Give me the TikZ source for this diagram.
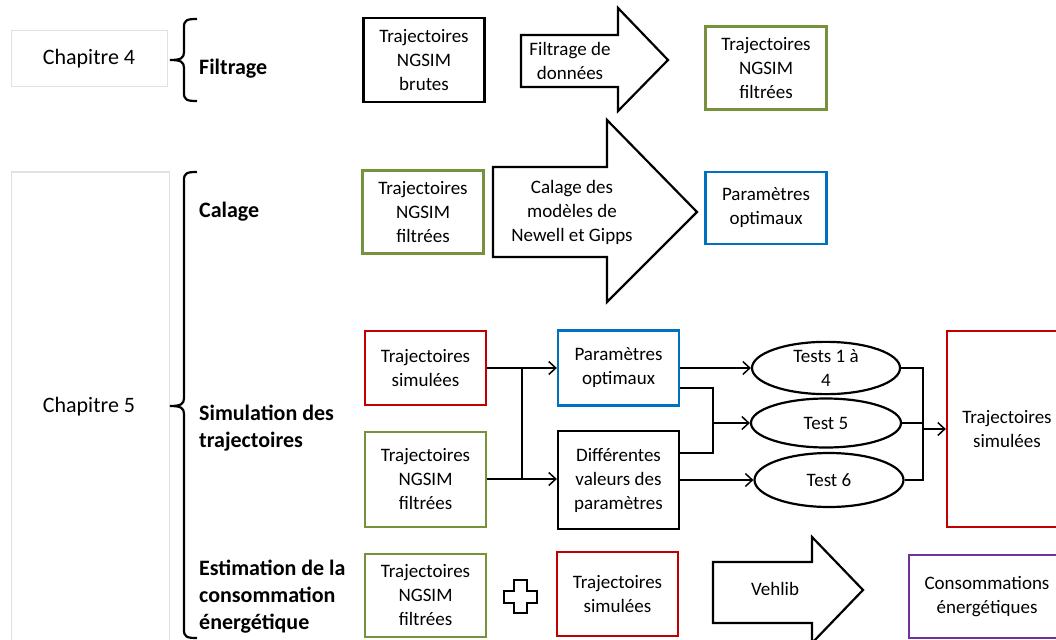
\documentclass[tikz,border=0pt]{standalone}
\usepackage{fontspec}
\setmainfont{Carlito}
\usetikzlibrary{shapes.geometric,arrows.meta}
\definecolor{cgreen}{RGB}{118,146,60}
\definecolor{cred}{RGB}{192,0,0}
\definecolor{cblue}{RGB}{0,112,192}
\definecolor{cpurple}{RGB}{112,48,160}
\definecolor{cgray}{RGB}{225,225,225}
\tikzset{
  box/.style={draw, line width=2.3pt, inner sep=0pt, align=center,
    font=\fontsize{19}{24}\selectfont},
  chapbox/.style={draw=cgray, line width=1pt, inner sep=0pt, align=center,
    font=\fontsize{22}{27}\selectfont},
  lbl/.style={anchor=west, inner sep=0pt, align=left,
    font=\bfseries\fontsize{22}{27}\selectfont},
  txt/.style={inner sep=0pt, align=center, font=\fontsize{19}{24}\selectfont},
  oval/.style={ellipse, draw, line width=2.2pt, inner sep=0pt, align=center,
    font=\fontsize{19}{24}\selectfont},
  fatarrow/.style={draw, line width=2.2pt, fill=white, line join=miter},
  brace/.style={draw, line width=2.2pt},
  conn/.style={draw, line width=1.5pt},
  arr/.style={conn, -{Straight Barb[length=7pt,width=13pt,line width=1.5pt]}},
}
\begin{document}
\begin{tikzpicture}[x=1pt,y=-1pt]
\useasboundingbox (0,0) rectangle (1056,639);
\clip (0,0) rectangle (1056,639);

% chapter boxes
\node[chapbox, minimum width=156, minimum height=56] (ch4) at (89,59) {Chapitre 4};
\node[chapbox, minimum width=158, minimum height=480] (ch5) at (90,412) {};
\node[inner sep=0pt, font=\fontsize{22}{27}\selectfont] (ch5t) at (89,407) {Chapitre 5};

% braces
\draw[brace] (197,19) .. controls (187,19) and (184,20) .. (184,27) -- (184,52)
  .. controls (184,58) and (181,60) .. (170,60)
  .. controls (181,60) and (184,62) .. (184,68) -- (184,93)
  .. controls (184,100) and (187,101) .. (197,101);
\draw[brace] (197,172) .. controls (187,172) and (184,173) .. (184,180) -- (184,398)
  .. controls (184,404) and (181,406) .. (170,406)
  .. controls (181,406) and (184,408) .. (184,414) -- (184,630)
  .. controls (184,637) and (187,638) .. (197,638);

% labels
\node[lbl] (lf) at (199,69) {Filtrage};
\node[lbl] (lc) at (199,212) {Calage};
\node[lbl] (ls) at (199,428) {Simulation des\\trajectoires};
\node[lbl] (le) at (199,597) {Estimation de la\\consommation\\énergétique};

% row 1: filtrage
\node[box, minimum width=121, minimum height=84] (brut) at (424,60) {Trajectoires\\NGSIM\\brutes};
\draw[fatarrow] (521,35) -- (618,35) -- (618,8) -- (668,60) -- (618,111) -- (618,87) -- (521,87) -- cycle;
\node[txt] (af) at (570,61) {Filtrage de\\données};
\node[box, draw=cgreen, minimum width=121, minimum height=83] (filt1) at (766,68) {Trajectoires\\NGSIM\\filtrées};

% row 2: calage
\node[box, draw=cgreen, minimum width=121, minimum height=83] (filt2) at (423,212) {Trajectoires\\NGSIM\\filtrées};
\draw[fatarrow] (493,167) -- (607,167) -- (607,120) -- (697,212) -- (607,302) -- (607,257) -- (493,257) -- cycle;
\node[txt] (ac) at (572,212) {Calage des\\modèles de\\Newell et Gipps};
\node[box, draw=cblue, minimum width=121, minimum height=72] (par1) at (766,208) {Paramètres\\optimaux};

% row 3: simulation
\node[box, draw=cred, minimum width=121, minimum height=74] (sim1) at (425.5,368) {Trajectoires\\simulées};
\node[box, draw=cgreen, minimum width=121, minimum height=95] (filt3) at (425.5,479.5) {Trajectoires\\NGSIM\\filtrées};
\node[box, draw=cblue, minimum width=121, minimum height=75] (par2) at (618.5,368) {Paramètres\\optimaux};
\node[box, minimum width=121, minimum height=98] (diff) at (618.5,480) {Différentes\\valeurs des\\paramètres};
\node[oval, minimum width=148, minimum height=52] (t14) at (826,368) {Tests 1 à\\4};
\node[oval, minimum width=150, minimum height=49] (t5) at (826,423) {Test 5};
\node[oval, minimum width=149, minimum height=54] (t6) at (829,480) {Test 6};
\node[box, draw=cred, minimum width=120, minimum height=196] (sim2) at (1007,429) {Trajectoires\\simulées};

\coordinate (j1) at (522,368);
\coordinate (j2) at (522,479);
\draw[conn] (sim1.east) -- (j1);
\draw[conn] (filt3.east |- j2) -- (j2);
\draw[conn] (j1) -- (j2);
\draw[arr] (j1) -- (par2.west |- j1);
\draw[arr] (j2) -- (diff.west |- j2);

\coordinate (k1) at (713,388);
\coordinate (k2) at (713,453);
\coordinate (k) at (713,423);
\draw[arr] (par2.east |- t14.west) -- (t14.west);
\draw[conn] (par2.east |- k1) -- (k1) -- (k2) -- (diff.east |- k2);
\draw[arr] (k) -- (t5.west);
\draw[arr] (diff.east |- t6.west) -- (t6.west);

\coordinate (m1) at (923,368);
\coordinate (m2) at (923,480);
\coordinate (m) at (923,429);
\draw[conn] (t14.east) -- (m1) -- (m2) -- (t6.east);
\draw[conn] (t5.east) -- (t5.east -| m1);
\draw[arr] (m) -- (sim2.west |- m);

% row 4: estimation
\node[box, draw=cgreen, minimum width=121, minimum height=83] (filt4) at (425.5,595.5) {Trajectoires\\NGSIM\\filtrées};
\draw[line width=2.2pt, line join=miter] (514,580) -- (527,580) -- (527,591) -- (537,591) -- (537,603) -- (527,603) -- (527,613) -- (514,613) -- (514,603) -- (504,603) -- (504,591) -- (514,591) -- cycle;
\node[box, draw=cred, minimum width=121, minimum height=84] (sim3) at (617.5,594) {Trajectoires\\simulées};
\draw[fatarrow] (713,562) -- (812,562) -- (812,537) -- (863,590) -- (812,643) -- (812,623) -- (713,623) -- cycle;
\node[txt] (av) at (775,589) {Vehlib};
\node[box, draw=cpurple, minimum width=156, minimum height=83] (cons) at (987,596.5) {Consommations\\énergétiques};
\end{tikzpicture}
\end{document}
